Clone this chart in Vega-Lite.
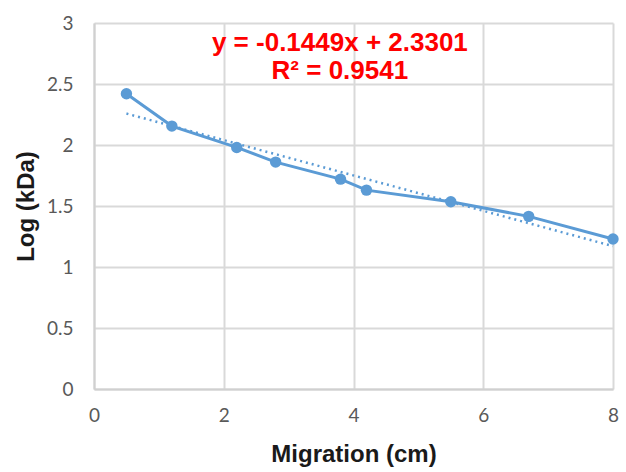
{
  "$schema": "https://vega.github.io/schema/vega-lite/v6.json",
  "width": 519,
  "height": 366,
  "autosize": {"type": "none"},
  "padding": {"left": 94, "top": 23, "right": 13, "bottom": 83},
  "background": "white",
  "config": {
    "view": {"stroke": null},
    "axis": {
      "gridColor": "#d9d9d9",
      "gridWidth": 2,
      "domainColor": "#d0d0d0",
      "domainWidth": 2,
      "ticks": false,
      "labelFont": "Lato",
      "labelFontSize": 19,
      "labelColor": "#595959",
      "labelFlush": false,
      "labelOverlap": false,
      "titleFont": "Liberation Sans",
      "titleFontSize": 24,
      "titleFontWeight": "bold",
      "titleColor": "#1a1a1a"
    }
  },
  "datasets": {
    "points": [
      {"migration": 0.5, "logkda": 2.42},
      {"migration": 1.2, "logkda": 2.155},
      {"migration": 2.2, "logkda": 1.98},
      {"migration": 2.8, "logkda": 1.86},
      {"migration": 3.8, "logkda": 1.72},
      {"migration": 4.2, "logkda": 1.63},
      {"migration": 5.5, "logkda": 1.535},
      {"migration": 6.7, "logkda": 1.415},
      {"migration": 8.0, "logkda": 1.23}
    ],
    "trend": [
      {"migration": 0.5, "logkda": 2.25765},
      {"migration": 8.0, "logkda": 1.1709}
    ],
    "labels": [
      {"migration": 3.79, "logkda": 2.835, "text": "y = -0.1449x + 2.3301"},
      {"migration": 3.79, "logkda": 2.605, "text": "R² = 0.9541"}
    ]
  },
  "layer": [
    {
      "data": {"name": "trend"},
      "mark": {"type": "line", "color": "#5b9bd5", "strokeWidth": 2.5, "strokeDash": [2, 4]},
      "encoding": {
        "x": {
          "field": "migration", "type": "quantitative",
          "scale": {"domain": [0, 8], "nice": false},
          "axis": {"values": [0, 2, 4, 6, 8], "format": "d", "title": "Migration (cm)", "labelPadding": 17, "titlePadding": 17}
        },
        "y": {
          "field": "logkda", "type": "quantitative",
          "scale": {"domain": [0, 3], "nice": false},
          "axis": {"values": [0, 0.5, 1, 1.5, 2, 2.5, 3], "format": "~g", "title": "Log (kDa)", "labelPadding": 21, "titlePadding": 8}
        }
      }
    },
    {
      "data": {"name": "points"},
      "mark": {"type": "line", "color": "#5b9bd5", "strokeWidth": 3, "point": {"filled": true, "size": 130, "color": "#5b9bd5", "opacity": 1}},
      "encoding": {
        "x": {"field": "migration", "type": "quantitative"},
        "y": {"field": "logkda", "type": "quantitative"}
      }
    },
    {
      "data": {"name": "labels"},
      "mark": {"type": "text", "color": "#ff0000", "font": "Liberation Sans", "fontWeight": "bold", "fontSize": 26, "align": "center", "baseline": "middle"},
      "encoding": {
        "x": {"field": "migration", "type": "quantitative"},
        "y": {"field": "logkda", "type": "quantitative"},
        "text": {"field": "text"}
      }
    }
  ]
}
